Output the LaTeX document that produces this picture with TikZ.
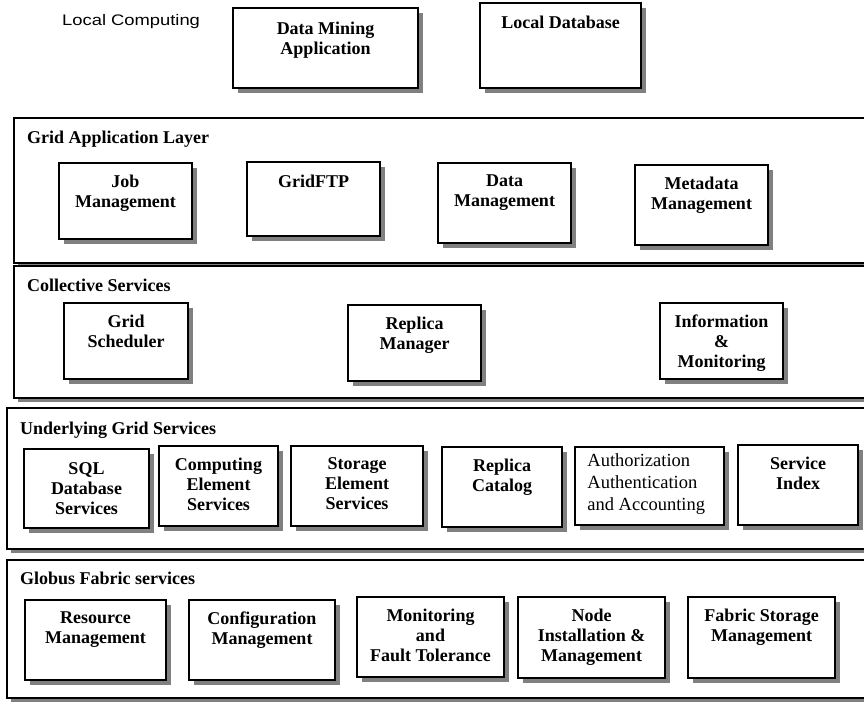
\documentclass[tikz,border=0pt]{standalone}
\usepackage{fontspec}
\setmainfont{Liberation Serif}
\newfontfamily\lcfont[FakeStretch=1.2]{Liberation Sans}
\usetikzlibrary{shadows,fit}
\definecolor{shadegray}{HTML}{808080}

\tikzset{
  x=1pt, y=-1pt,
  boxshadow/.style={drop shadow={shadow xshift=5pt, shadow yshift=-5pt, fill=shadegray, opacity=1}},
  frameshadow/.style={drop shadow={shadow xshift=4pt, shadow yshift=-4pt, fill=shadegray, opacity=1}},
  svc/.style={draw=black, line width=1.6pt, fill=white, inner sep=0pt, boxshadow},
  layer/.style={draw=black, line width=1.2pt, fill=white, inner sep=0pt, frameshadow},
  toplayer/.style={layer, line width=2.6pt},
  svctext/.style={inner sep=0pt, align=center, anchor=north,
    font=\fontsize{18}{20}\selectfont\bfseries, execute at begin node=\strut},
  plaintext/.style={inner sep=0pt, align=left, anchor=north west,
    font=\fontsize{18.5}{22}\selectfont, execute at begin node=\strut},
  layertitle/.style={inner sep=0pt, anchor=base west, font=\fontsize{18}{20}\selectfont\bfseries},
}

% service box: [caption drop], name, left, top, right, bottom, caption
\newcommand\svcbox[7][12.5]{%
  \node[svc, fit={(#3,#4) (#5,#6)}] (#2) {};
  \node[svctext] (#2-txt) at ([yshift=-#1pt]#2.north) {#7};
}
% layer frame: name, left, top, bottom, style, title, title x, title baseline
\newcommand\layerframe[8]{%
  \node[#5, fit={(#2,#3) (890,#4)}] (#1) {};
  \node[layertitle] (#1-title) at (#7,#8) {#6};
}

\begin{document}
\begin{tikzpicture}
\useasboundingbox (0,0) rectangle (864,702);
\clip (0,0) rectangle (864,702);

% local computing
\node[inner sep=0pt, anchor=base west, font=\lcfont\fontsize{15.3}{18}\selectfont] (local) at (62,25) {Local Computing};
\svcbox[15]{dm}{233}{8}{418}{88}{Data Mining\\Application}
\svcbox{ldb}{480}{3}{641}{88}{Local Database}

% grid application layer
\layerframe{gal}{14}{118}{263}{toplayer}{Grid Application Layer}{27}{143.5}
\svcbox{job}{59}{163}{192}{239}{Job\\Management}
\svcbox{ftp}{247}{162}{380}{236}{GridFTP}
\svcbox{dat}{438}{163}{571}{243}{Data\\Management}
\svcbox{meta}{635}{165}{768}{245}{Metadata\\Management}

% collective services
\layerframe{col}{14}{266}{398}{layer}{Collective Services}{27}{291}
\svcbox{gsch}{64}{303}{188}{379}{Grid\\Scheduler}
\svcbox{rman}{348}{305}{481}{381}{Replica\\Manager}
\svcbox{info}{660}{303}{783}{379}{Information\\\&\\Monitoring}

% underlying grid services
\layerframe{ugs}{7}{408}{549}{layer}{Underlying Grid Services}{20}{434}
\svcbox[14.5]{sql}{24}{449}{149}{528}{SQL\\Database\\Services}
\svcbox{comp}{159}{446}{278}{526}{Computing\\Element\\Services}
\svcbox{stor}{291}{446}{423}{526}{Storage\\Element\\Services}
\svcbox{rcat}{442}{447}{562}{527}{Replica\\Catalog}
\node[svc, fit={(575,447) (724,525)}] (auth) {};
\node[plaintext] (auth-txt) at ([xshift=13pt,yshift=-7pt]auth.north west) {Authorization\\Authentication\\and Accounting};
\svcbox{sidx}{738}{445}{858}{525}{Service\\Index}

% globus fabric services
\layerframe{gfs}{7}{560}{698}{layer}{Globus Fabric services}{20}{584}
\svcbox{res}{25}{600}{166}{680}{Resource\\Management}
\svcbox{conf}{189}{600}{335}{680}{Configuration\\Management}
\svcbox{mon}{357}{597}{504}{677}{Monitoring\\and\\Fault Tolerance}
\svcbox{inst}{518}{597}{665}{678}{Node\\Installation \&\\Management}
\svcbox{fab}{688}{597}{835}{678}{Fabric Storage\\Management}
\end{tikzpicture}
\end{document}
